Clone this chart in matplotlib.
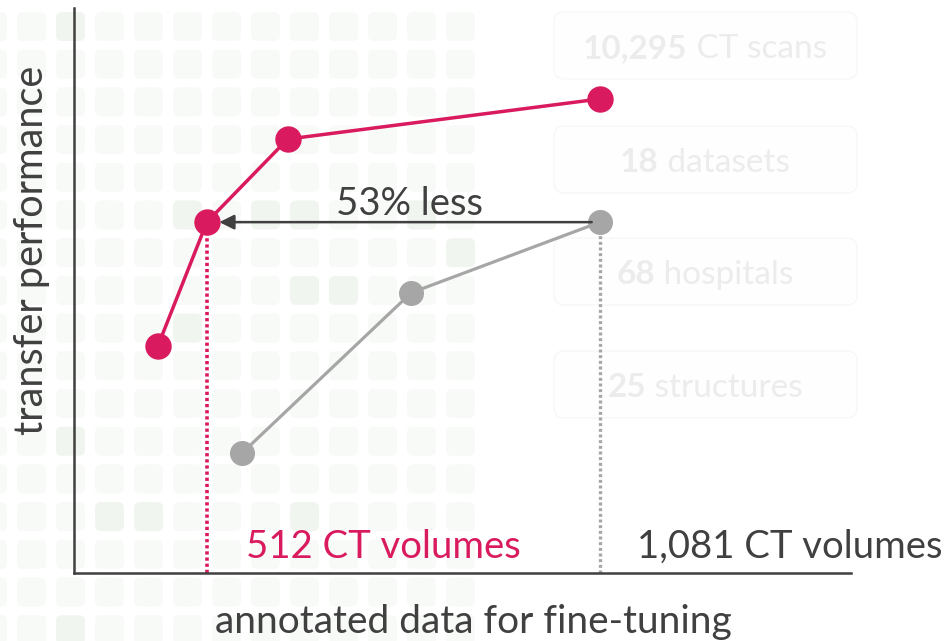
import matplotlib
matplotlib.use("Agg")
import matplotlib.pyplot as plt
from matplotlib.patches import FancyBboxPatch

plt.rcParams["font.family"] = ["Lato", "DejaVu Sans"]

# curve values (arbitrary units)
pink_x = [10.8, 17.1, 27.5, 67.7]
pink_y = [40.2, 62.1, 76.8, 83.9]
gray_x = [21.6, 43.4, 67.7]
gray_y = [21.2, 49.6, 62.1]

pink_label = "512 CT volumes"
gray_label = "1,081 CT volumes"
gain_label = "53% less"
xlabel = "annotated data for fine-tuning"
ylabel = "transfer performance"

box_numbers = ["10,295", "18", "68", "25"]
box_words = ["CT scans", "datasets", "hospitals", "structures"]

# background tiles that are a bit darker (col, row)
dark_tiles = [(1, 0), (4, 5), (6, 5), (7, 5), (10, 5), (11, 6), (7, 7), (8, 7),
              (4, 8), (1, 11), (2, 13), (3, 13), (7, 13), (1, 16)]

PINK = "#da1a5e"
GRAY = "#a6a6a6"
DARK = "#404040"

W, H = 947, 641
fig = plt.figure(figsize=(W / 100, H / 100), dpi=100)

# overlay in pixel coordinates for the decoration
bg = fig.add_axes([0, 0, 1, 1], zorder=0)
bg.set_xlim(0, W)
bg.set_ylim(H, 0)
bg.axis("off")

for c in range(-1, 12):
    for r in range(17):
        x0 = 17 + 39 * c
        y0 = 12 + 37.7 * r
        col = "#f1f5ef" if (c, r) in dark_tiles else "#f7faf6"
        bg.add_patch(FancyBboxPatch((x0 + 4, y0 + 4), 21, 21,
                                    boxstyle="round,pad=4,rounding_size=6",
                                    fc=col, ec="none"))

# faint info boxes on the right
box_tops = [12, 126, 238, 351]
for top in box_tops:
    bg.add_patch(FancyBboxPatch((562, top + 8), 287, 51,
                                boxstyle="round,pad=8,rounding_size=10",
                                fc="#fdfefd", ec="#f6f8f6", lw=1))

fig.canvas.draw()
rend = fig.canvas.get_renderer()
for top, num, word in zip(box_tops, box_numbers, box_words):
    t1 = bg.text(0, top + 46, num, fontsize=24, fontweight="bold",
                 color="#ececec", va="baseline", ha="left")
    t2 = bg.text(0, top + 46, " " + word, fontsize=24,
                 color="#ececec", va="baseline", ha="left")
    w1 = t1.get_window_extent(rend).width
    w2 = t2.get_window_extent(rend).width
    start = 705 - (w1 + w2) / 2
    t1.set_x(start)
    t2.set_x(start + w1)

# main axes
ax = fig.add_axes([74 / W, 1 - 573 / H, (851 - 74) / W, (573 - 8) / H], zorder=1)
ax.patch.set_alpha(0)
ax.set_xlim(0, 100)
ax.set_ylim(0, 100)
for s in ["top", "right"]:
    ax.spines[s].set_visible(False)
for s in ["left", "bottom"]:
    ax.spines[s].set_color(DARK)
    ax.spines[s].set_linewidth(1.8)
ax.set_xticks([])
ax.set_yticks([])

# dotted guides
ax.plot([pink_x[1], pink_x[1]], [0, pink_y[1]], color=PINK, lw=2.6,
        linestyle=(0, (0.9, 0.8)), zorder=2)
ax.plot([gray_x[-1], gray_x[-1]], [0, gray_y[-1]], color=GRAY, lw=2.4,
        linestyle=(0, (0.9, 0.8)), zorder=2)

ax.plot(gray_x, gray_y, color=GRAY, lw=2.3, marker="o", ms=17, zorder=3)
ax.plot(pink_x, pink_y, color=PINK, lw=2.5, marker="o", ms=18, zorder=4)

ax.annotate("", xy=(pink_x[1], pink_y[1]), xytext=(gray_x[-1], gray_y[-1]),
            arrowprops=dict(arrowstyle="-|>", color=DARK, lw=1.8,
                            mutation_scale=22, shrinkA=6, shrinkB=9),
            zorder=5)
ax.text((pink_x[1] + gray_x[-1]) / 2 + 0.8, 63.4, gain_label, fontsize=27.5,
        color=DARK, ha="center", va="baseline")

ax.text(22.1, 2.65, pink_label, fontsize=27.5, color=PINK, va="baseline")
ax.text(72.5, 2.65, gray_label, fontsize=27.5, color=DARK, va="baseline")

fig.text(473 / W, 1 - 633 / H, xlabel, fontsize=28, color=DARK,
         ha="center", va="baseline")
fig.text(43 / W, 1 - 250 / H, ylabel, fontsize=28.5, color=DARK, rotation=90,
         rotation_mode="anchor", ha="center", va="baseline")

fig.savefig("out.png", dpi=100)
